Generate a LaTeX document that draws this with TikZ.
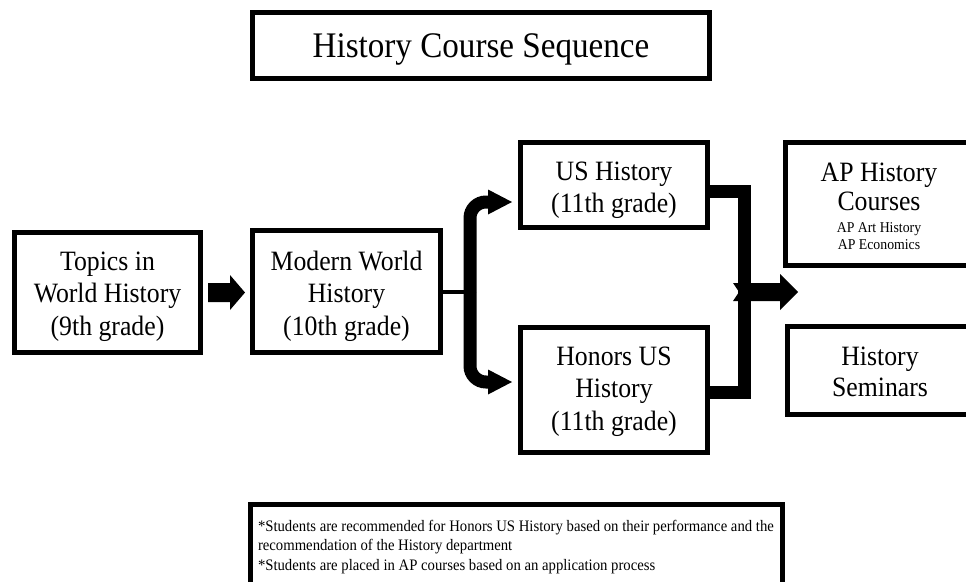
\documentclass[tikz,border=0pt]{standalone}
\usepackage{fontspec}
\setmainfont{Liberation Serif}[FakeStretch=0.92]
\usetikzlibrary{calc}
\newcommand\boxfont{\fontsize{28}{32.5}\selectfont}
\newcommand\aptfont{\fontsize{28}{29}\selectfont}
\newcommand\ttlfont{\fontsize{36}{40}\selectfont}
\newcommand\subfont{\fontsize{15}{17}\selectfont}
\newcommand\notefont{\fontsize{16}{19.5}\selectfont}
\tikzset{
  box/.style={draw, line width=5pt, inner sep=0pt, outer sep=0pt},
  bar/.style={line width=13pt},
  thinline/.style={line width=4pt},
  txt/.style={inner sep=0pt, outer sep=0pt, align=center, font=\boxfont}
}
\begin{document}
\begin{tikzpicture}[x=1pt,y=-1pt]
\useasboundingbox (0,0) rectangle (966,581);
\clip (0,0) rectangle (966,581);
\fill[white] (0,0) rectangle (966,581);

\node[box, minimum width=457pt, minimum height=66pt] (title) at (481,45.5) {};
\node[txt, font=\ttlfont] (titleT) at ($(title.center)+(0,4)$) {History Course Sequence};

\node[box, minimum width=186pt, minimum height=120pt] (topics) at (107.5,292.5) {};
\node[txt] (topicsT) at ($(topics.center)+(0,4)$) {Topics in\\World History\\(9th grade)};
\node[box, minimum width=188pt, minimum height=122pt] (modern) at (346.5,291.5) {};
\node[txt] (modernT) at ($(modern.center)+(0,4.5)$) {Modern World\\History\\(10th grade)};
\node[box, minimum width=187pt, minimum height=85pt] (us) at (614,185) {};
\node[txt] (usT) at ($(us.center)+(0,5)$) {US History\\(11th grade)};
\node[box, minimum width=187pt, minimum height=125pt] (hon) at (614,390) {};
\node[txt] (honT) at ($(hon.center)+(0,1.5)$) {Honors US\\History\\(11th grade)};
\node[box, minimum width=187pt, minimum height=123pt] (ap) at (879,204) {};
\node[txt, font=\aptfont] (aptitle) at (879,186.5) {AP History\\Courses};
\node[txt, font=\subfont] (apsub) at (879,236) {AP Art History\\AP Economics};
\node[box, minimum width=185pt, minimum height=88pt] (sem) at (880,370.5) {};
\node[txt, font=\fontsize{28}{30.5}\selectfont] (semT) at ($(sem.center)+(0,1.5)$) {History\\Seminars};

\node[box, anchor=north west, minimum width=532pt, minimum height=100pt] (note) at (250.5,504.5) {};
\node[inner sep=0pt, outer sep=0pt, anchor=north west, align=left, font=\notefont] (notetext) at (258,520)
 {*Students are recommended for Honors US History based on their performance and the\\
  recommendation of the History department\\
  *Students are placed in AP courses based on an application process};

% Topics -> Modern block arrow
\fill ($(topics.east)+(7.5,-9.5)$) -- ++(22,0) -- ++(0,-8) -- ++(15,17.5) -- ++(-15,17.5) -- ++(0,-8) -- ++(-22,0) -- cycle;

% Modern -> split
\coordinate (split) at (470,292);
\coordinate (usIn) at (489,202);
\coordinate (honIn) at (489,382);
\draw[thinline] (modern.east |- split) -- (split);
\draw[bar, rounded corners=16pt] (split) |- (usIn);
\draw[bar, rounded corners=16pt] (split) |- (honIn);
\fill (usIn) ++(-1,-12.5) -- ++(24,12.5) -- ++(-24,12.5) -- cycle;
\fill (honIn) ++(-1,-12.5) -- ++(24,12.5) -- ++(-24,12.5) -- cycle;

% merge bracket
\draw[bar] ($(us.east)+(0,6)$) -- (744,191) -- (744,392) -- ($(hon.east)+(0,2)$);
\coordinate (merge) at (744,292);
\fill ($(merge)+(-11,-9)$) -- ++(47,0) -- ++(0,-9) -- ++(18,18) -- ++(-18,18) -- ++(0,-9) -- ++(-47,0) -- ++(6,-9) -- cycle;
\end{tikzpicture}
\end{document}
